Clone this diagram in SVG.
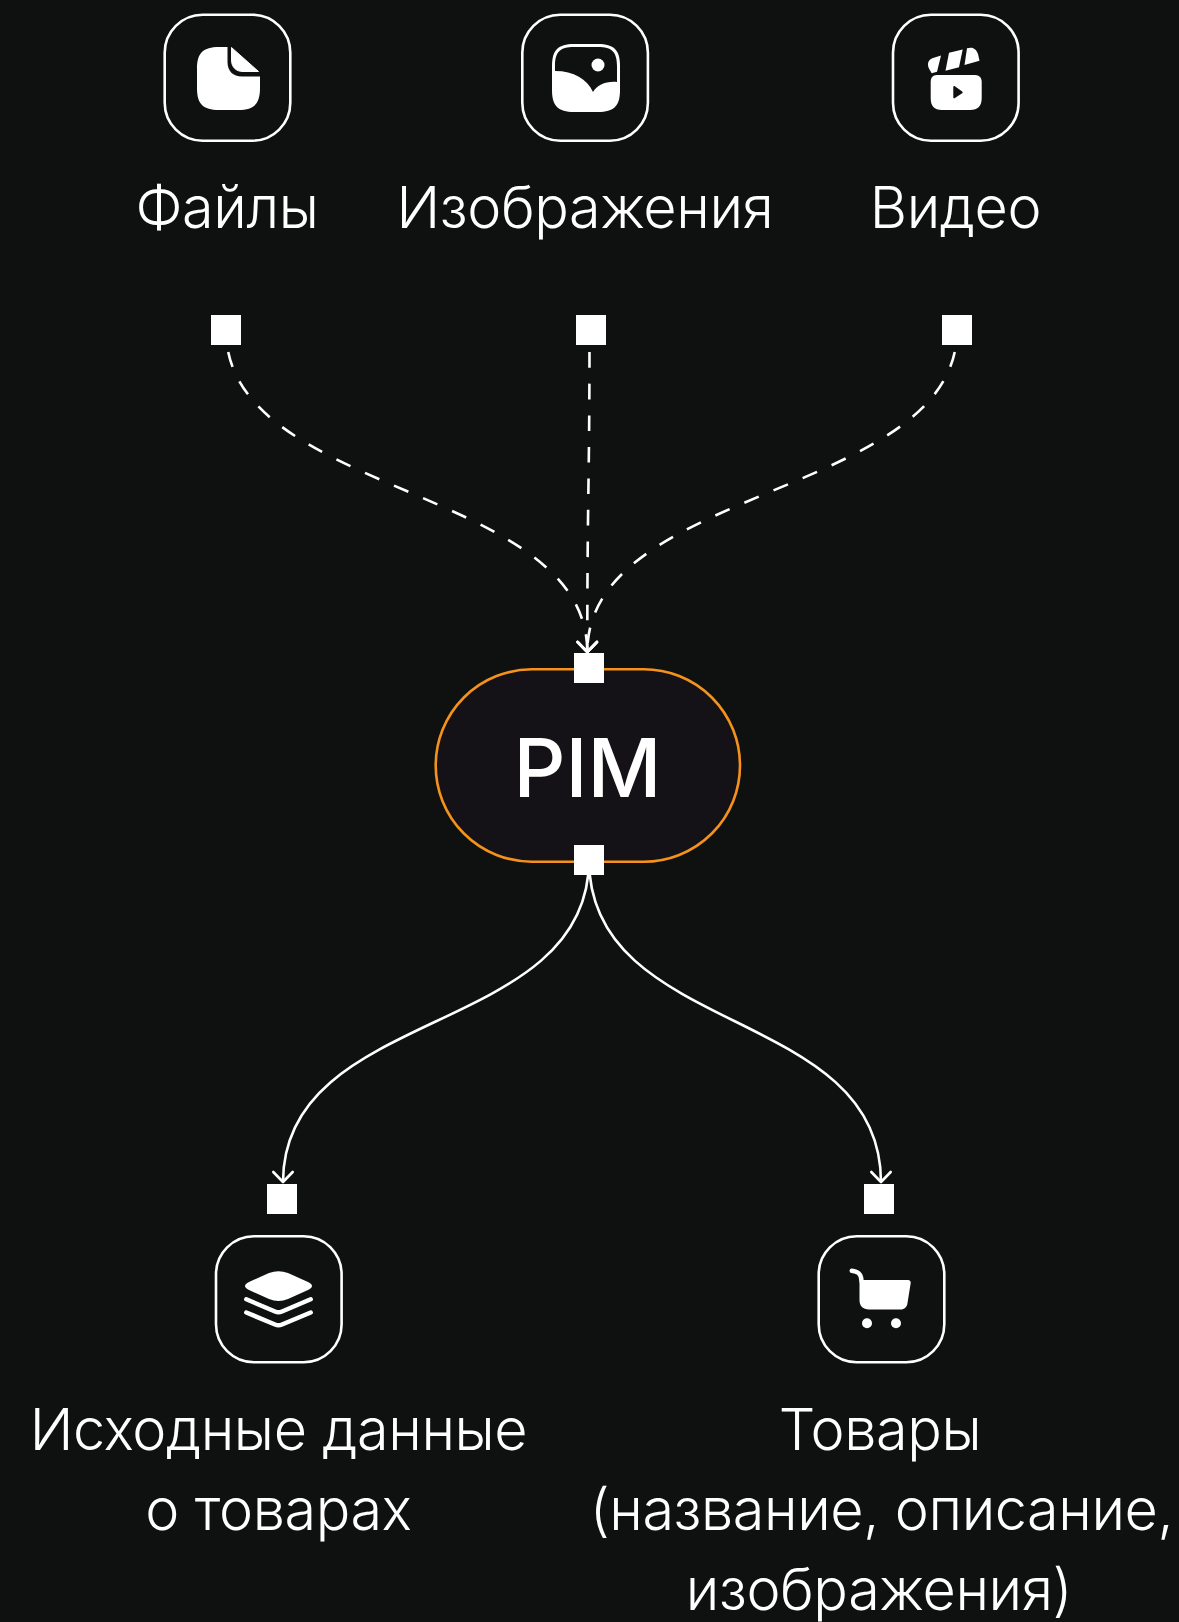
<svg xmlns="http://www.w3.org/2000/svg" width="1179" height="1622" viewBox="0 0 1179 1622">
<defs>
<marker id="arrow" markerUnits="userSpaceOnUse" markerWidth="24" markerHeight="24" viewBox="-12 -12 24 24" refX="0" refY="0" orient="auto" overflow="visible"><path d="M-10 -9.7L0 0L-10 9.7" fill="none" stroke="#fff" stroke-width="2.600" stroke-linecap="round" stroke-linejoin="round"/></marker>
</defs>
<style>
.frame{fill:none;stroke:#fff;stroke-width:2.600}
.port{fill:#fff}
.icon{fill:#fff}
.label{font-family:"Inter","Liberation Sans",sans-serif;font-weight:300;font-size:57.500px;letter-spacing:-0.400px;fill:#fff;text-anchor:middle}
.dash{fill:none;stroke:#fff;stroke-width:2.600;stroke-dasharray:15.600 16;stroke-dashoffset:-22;marker-end:url(#arrow)}
.solid{fill:none;stroke:#fff;stroke-width:2.600;marker-end:url(#arrow)}
</style>
<rect width="1179" height="1622" fill="#0f1110"/>
<g id="connectors">
<path class="dash" d="M226 330C226 497 587 485 587.300 652"/>
<path class="dash" d="M589.500 330C589.500 490 587.300 490 587.300 652"/>
<path class="dash" d="M957 330C957 497 587.300 485 587.300 652"/>
<path class="solid" d="M589 860C589 1038 283 1005 283 1182"/>
<path class="solid" d="M589 860C589 1038 881 1005 881 1182"/>
</g>
<g id="node-files">
<rect class="frame" x="164.700" y="14.700" width="125.600" height="126" rx="38"/>
<path class="icon" d="M227.500 47V62C227.500 71 233 76.500 242 76.500H260V88C260 104 254 110 238 110H219C203 110 197 104 197 88V69C197 53 203 47 219 47Z"/>
<path class="icon" d="M231.500 47.500L258.500 71.500H243C236 71.500 231.500 67 231.500 60Z" stroke="#fff" stroke-width="1" stroke-linejoin="round"/>
<text class="label" x="227" y="228">Файлы</text>
<rect class="port" x="211" y="315" width="30" height="30"/>
</g>
<g id="node-images">
<rect class="frame" x="522.300" y="14.700" width="125.600" height="126" rx="38"/>
<path class="icon" d="M574 44H598C614 44 620 50 620 66V90C620 106 614 112 598 112H574C558 112 552 106 552 90V66C552 50 558 44 574 44Z"/>
<path fill="#0f1110" d="M555 71V66C555 52 560 47 574 47H598C612 47 617 52 617 66V82C606 81 597 85 593 92C587 79 574 71 555 71Z"/>
<circle class="icon" cx="598" cy="65" r="6.500"/>
<text class="label" x="585" y="228">Изображения</text>
<rect class="port" x="576" y="315" width="30" height="30"/>
</g>
<g id="node-video">
<rect class="frame" x="893" y="14.700" width="125.600" height="126" rx="38"/>
<path class="icon" d="M937 75H975C979.500 75 981.700 78 981.700 82V98C981.700 106 978 110 970 110H942C934 110 930.700 106 930.700 98V82C930.700 78 932.500 75 937 75Z"/>
<path fill="#0f1110" d="M953.300 86.700C953.300 86 954 85.700 954.500 86L962.200 91.500C962.800 92 962.800 92.800 962.200 93.300L954.500 98.300C954 98.700 953.300 98.300 953.300 97.600Z"/>
<path class="icon" d="M941 55.500L937 71.700L931.700 73.300C930 70 928 68 928 65C928 61 930 59 933 58Z"/>
<path class="icon" d="M949 52.700L962.700 49.500L959 67.300L945.500 70.700Z"/>
<path class="icon" d="M967 48.300L970.700 47.700C974 47.700 976.700 50 978 54L979.500 60.700L964.500 65Z"/>
<text class="label" x="955.500" y="228">Видео</text>
<rect class="port" x="942" y="315" width="30" height="30"/>
</g>
<g id="node-pim">
<rect x="435.700" y="669.300" width="304.300" height="192.400" rx="96.200" fill="#141216" stroke="#f5921b" stroke-width="2.600"/>
<rect class="port" x="574" y="653" width="30" height="30"/>
<rect class="port" x="574" y="845" width="30" height="30"/>
<text x="587.500" y="796.700" font-family="Inter,'Liberation Sans',sans-serif" font-size="81" font-weight="500" fill="#fff" text-anchor="middle">PIM</text>
</g>
<g id="node-source">
<rect class="port" x="267" y="1184" width="30" height="30"/>
<rect class="frame" x="216" y="1236.300" width="125.600" height="126" rx="38"/>
<path class="icon" d="M269 1273Q278.500 1269.500 288 1273L308 1282Q316 1286 308 1290L288 1299Q278.500 1303 269 1299L249 1290Q241 1286 249 1282Z"/>
<path d="M246.300 1299.300L275 1311.500Q278.500 1313 282 1311.500L310.700 1299.300M246.300 1312.500L275 1324.500Q278.500 1326 282 1324.500L310.700 1312.500" fill="none" stroke="#fff" stroke-width="4.500" stroke-linecap="round"/>
<text class="label" x="278.500" y="1450">Исходные данные</text>
<text class="label" x="278.500" y="1530">о товарах</text>
</g>
<g id="node-products">
<rect class="port" x="864" y="1184" width="30" height="30"/>
<rect class="frame" x="818.700" y="1236.300" width="125.600" height="126" rx="38"/>
<path class="icon" d="M859.500 1281C859.500 1280.700 861 1280 862 1280H908C910 1280 911 1281.500 910.700 1283L907.500 1303C907 1307 904.500 1309.500 900.500 1309.500H869C863 1309.500 859.500 1306 859.500 1300Z"/>
<path d="M851.800 1270.800C857 1271.300 861.500 1273 861.500 1281" fill="none" stroke="#fff" stroke-width="4.500" stroke-linecap="round"/>
<circle class="icon" cx="867" cy="1323.300" r="5"/>
<circle class="icon" cx="896" cy="1323.300" r="5"/>
<text class="label" x="880" y="1450">Товары</text>
<text class="label" x="881.500" y="1530">(название, описание,</text>
<text class="label" x="879" y="1610">изображения)</text>
</g>
</svg>
